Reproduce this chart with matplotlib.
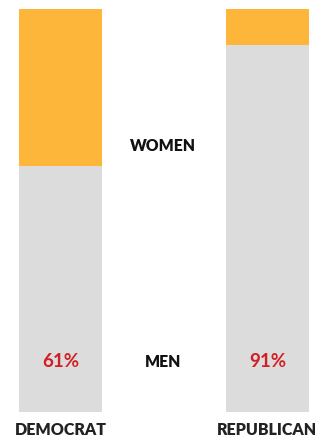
import matplotlib.pyplot as plt

parties = ["DEMOCRAT", "REPUBLICAN"]
men = [61, 91]
women = [39, 9]

plt.rcParams['font.family'] = ['Lato', 'DejaVu Sans']

fig = plt.figure(figsize=(3.32, 4.39), dpi=100)
ax = fig.add_axes([0, 0.0592, 1, 0.918])

x = range(len(parties))
ax.bar(x, men, width=0.4, color="#dcdcdc")
ax.bar(x, women, width=0.4, bottom=men, color="#fdb53a")

for i, (p, m) in enumerate(zip(parties, men)):
    ax.text(i, 12.7, f"{m}%", ha="center", va="center", fontsize=13.5,
            fontweight="bold", color="#d01f25")
    ax.text(i, -4.3, p, ha="center", va="center", fontsize=11.5,
            fontweight="heavy", color="#222222", clip_on=False)

ax.text(0.495, 66.3, "WOMEN", ha="center", va="center", fontsize=11.3,
        fontweight="heavy", color="#111111")
ax.text(0.495, 12.7, "MEN", ha="center", va="center", fontsize=11.3,
        fontweight="heavy", color="#111111")

ax.set_xlim(-0.292, 1.312)
ax.set_ylim(0, 100)
ax.axis("off")

fig.savefig("out.png", dpi=100)
